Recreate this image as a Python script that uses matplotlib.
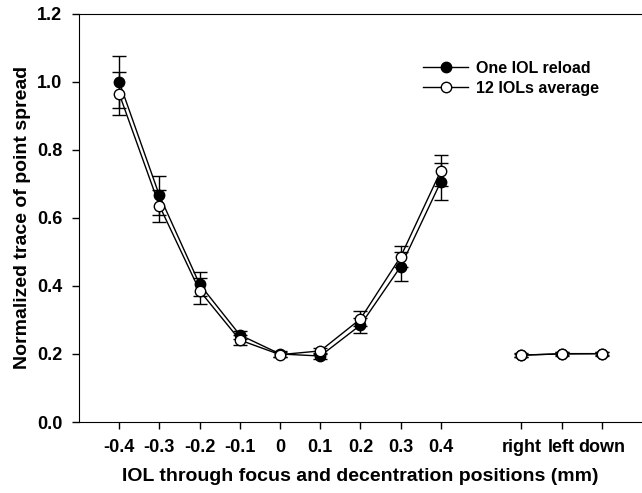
import numpy as np
import matplotlib
matplotlib.use('Agg')
import matplotlib.pyplot as plt
from matplotlib.lines import Line2D

plt.rcParams['font.family'] = 'Liberation Sans'
plt.rcParams['font.weight'] = 'bold'

# focus positions (mm) and decentration positions
focus_labels = ['-0.4', '-0.3', '-0.2', '-0.1', '0', '0.1', '0.2', '0.3', '0.4']
decent_labels = ['right', 'left', 'down']

# one IOL reload
one_focus = [1.000, 0.666, 0.405, 0.256, 0.200, 0.194, 0.285, 0.457, 0.707]
one_focus_err = [0.077, 0.058, 0.035, 0.012, 0.008, 0.008, 0.022, 0.042, 0.053]
one_decent = [0.197, 0.200, 0.201]
one_decent_err = [0.006, 0.005, 0.006]

# 12 IOLs average
avg_focus = [0.965, 0.636, 0.386, 0.241, 0.198, 0.209, 0.303, 0.486, 0.739]
avg_focus_err = [0.063, 0.047, 0.038, 0.014, 0.008, 0.010, 0.022, 0.030, 0.046]
avg_decent = [0.196, 0.201, 0.201]
avg_decent_err = [0.005, 0.005, 0.005]

xf = np.arange(len(focus_labels))
xd = np.arange(len(decent_labels)) + 10

fig = plt.figure(figsize=(6.42, 4.93), dpi=100)
ax = fig.add_axes([0.123, 0.144, 0.877, 0.828])

eb = dict(color='black', ecolor='black', elinewidth=1.0, capsize=5,
          capthick=1.0, linewidth=1.0, markersize=7.5, markeredgecolor='black')

ax.errorbar(xf, one_focus, yerr=one_focus_err, fmt='-o', markerfacecolor='black',
            zorder=3, **eb)
ax.errorbar(xd, one_decent, yerr=one_decent_err, fmt='-o', markerfacecolor='black',
            zorder=3, **eb)
ax.errorbar(xf, avg_focus, yerr=avg_focus_err, fmt='-o', markerfacecolor='white',
            zorder=4, **eb)
ax.errorbar(xd, avg_decent, yerr=avg_decent_err, fmt='-o', markerfacecolor='white',
            zorder=4, **eb)

ax.set_xlim(-1, 13)
ax.set_ylim(0, 1.2)
ax.set_xticks(list(xf) + list(xd))
ax.set_xticklabels(focus_labels + decent_labels)
ax.set_yticks(np.arange(0, 1.21, 0.2))
ax.set_yticklabels(['%.1f' % v for v in np.arange(0, 1.21, 0.2)])
ax.tick_params(direction='out', length=5, width=1, labelsize=13, pad=7)
for lbl in ax.get_xticklabels() + ax.get_yticklabels():
    lbl.set_fontweight('bold')
ax.spines['right'].set_visible(False)

ax.set_xlabel('IOL through focus and decentration positions (mm)', fontsize=14,
              fontweight='bold', labelpad=9)
ax.set_ylabel('Normalized trace of point spread', fontsize=14,
              fontweight='bold', labelpad=4)

handles = [Line2D([], [], color='black', lw=1, marker='o', markersize=7.5,
                  markerfacecolor='black', markeredgecolor='black'),
           Line2D([], [], color='black', lw=1, marker='o', markersize=7.5,
                  markerfacecolor='white', markeredgecolor='black')]
ax.legend(handles, ['One IOL reload', '12 IOLs average'], loc='upper left',
          bbox_to_anchor=(0.6, 0.90), frameon=False, fontsize=11.5,
          handlelength=2.8, handletextpad=0.5, labelspacing=0.3,
          borderaxespad=0)

fig.savefig('out.png', dpi=100)
